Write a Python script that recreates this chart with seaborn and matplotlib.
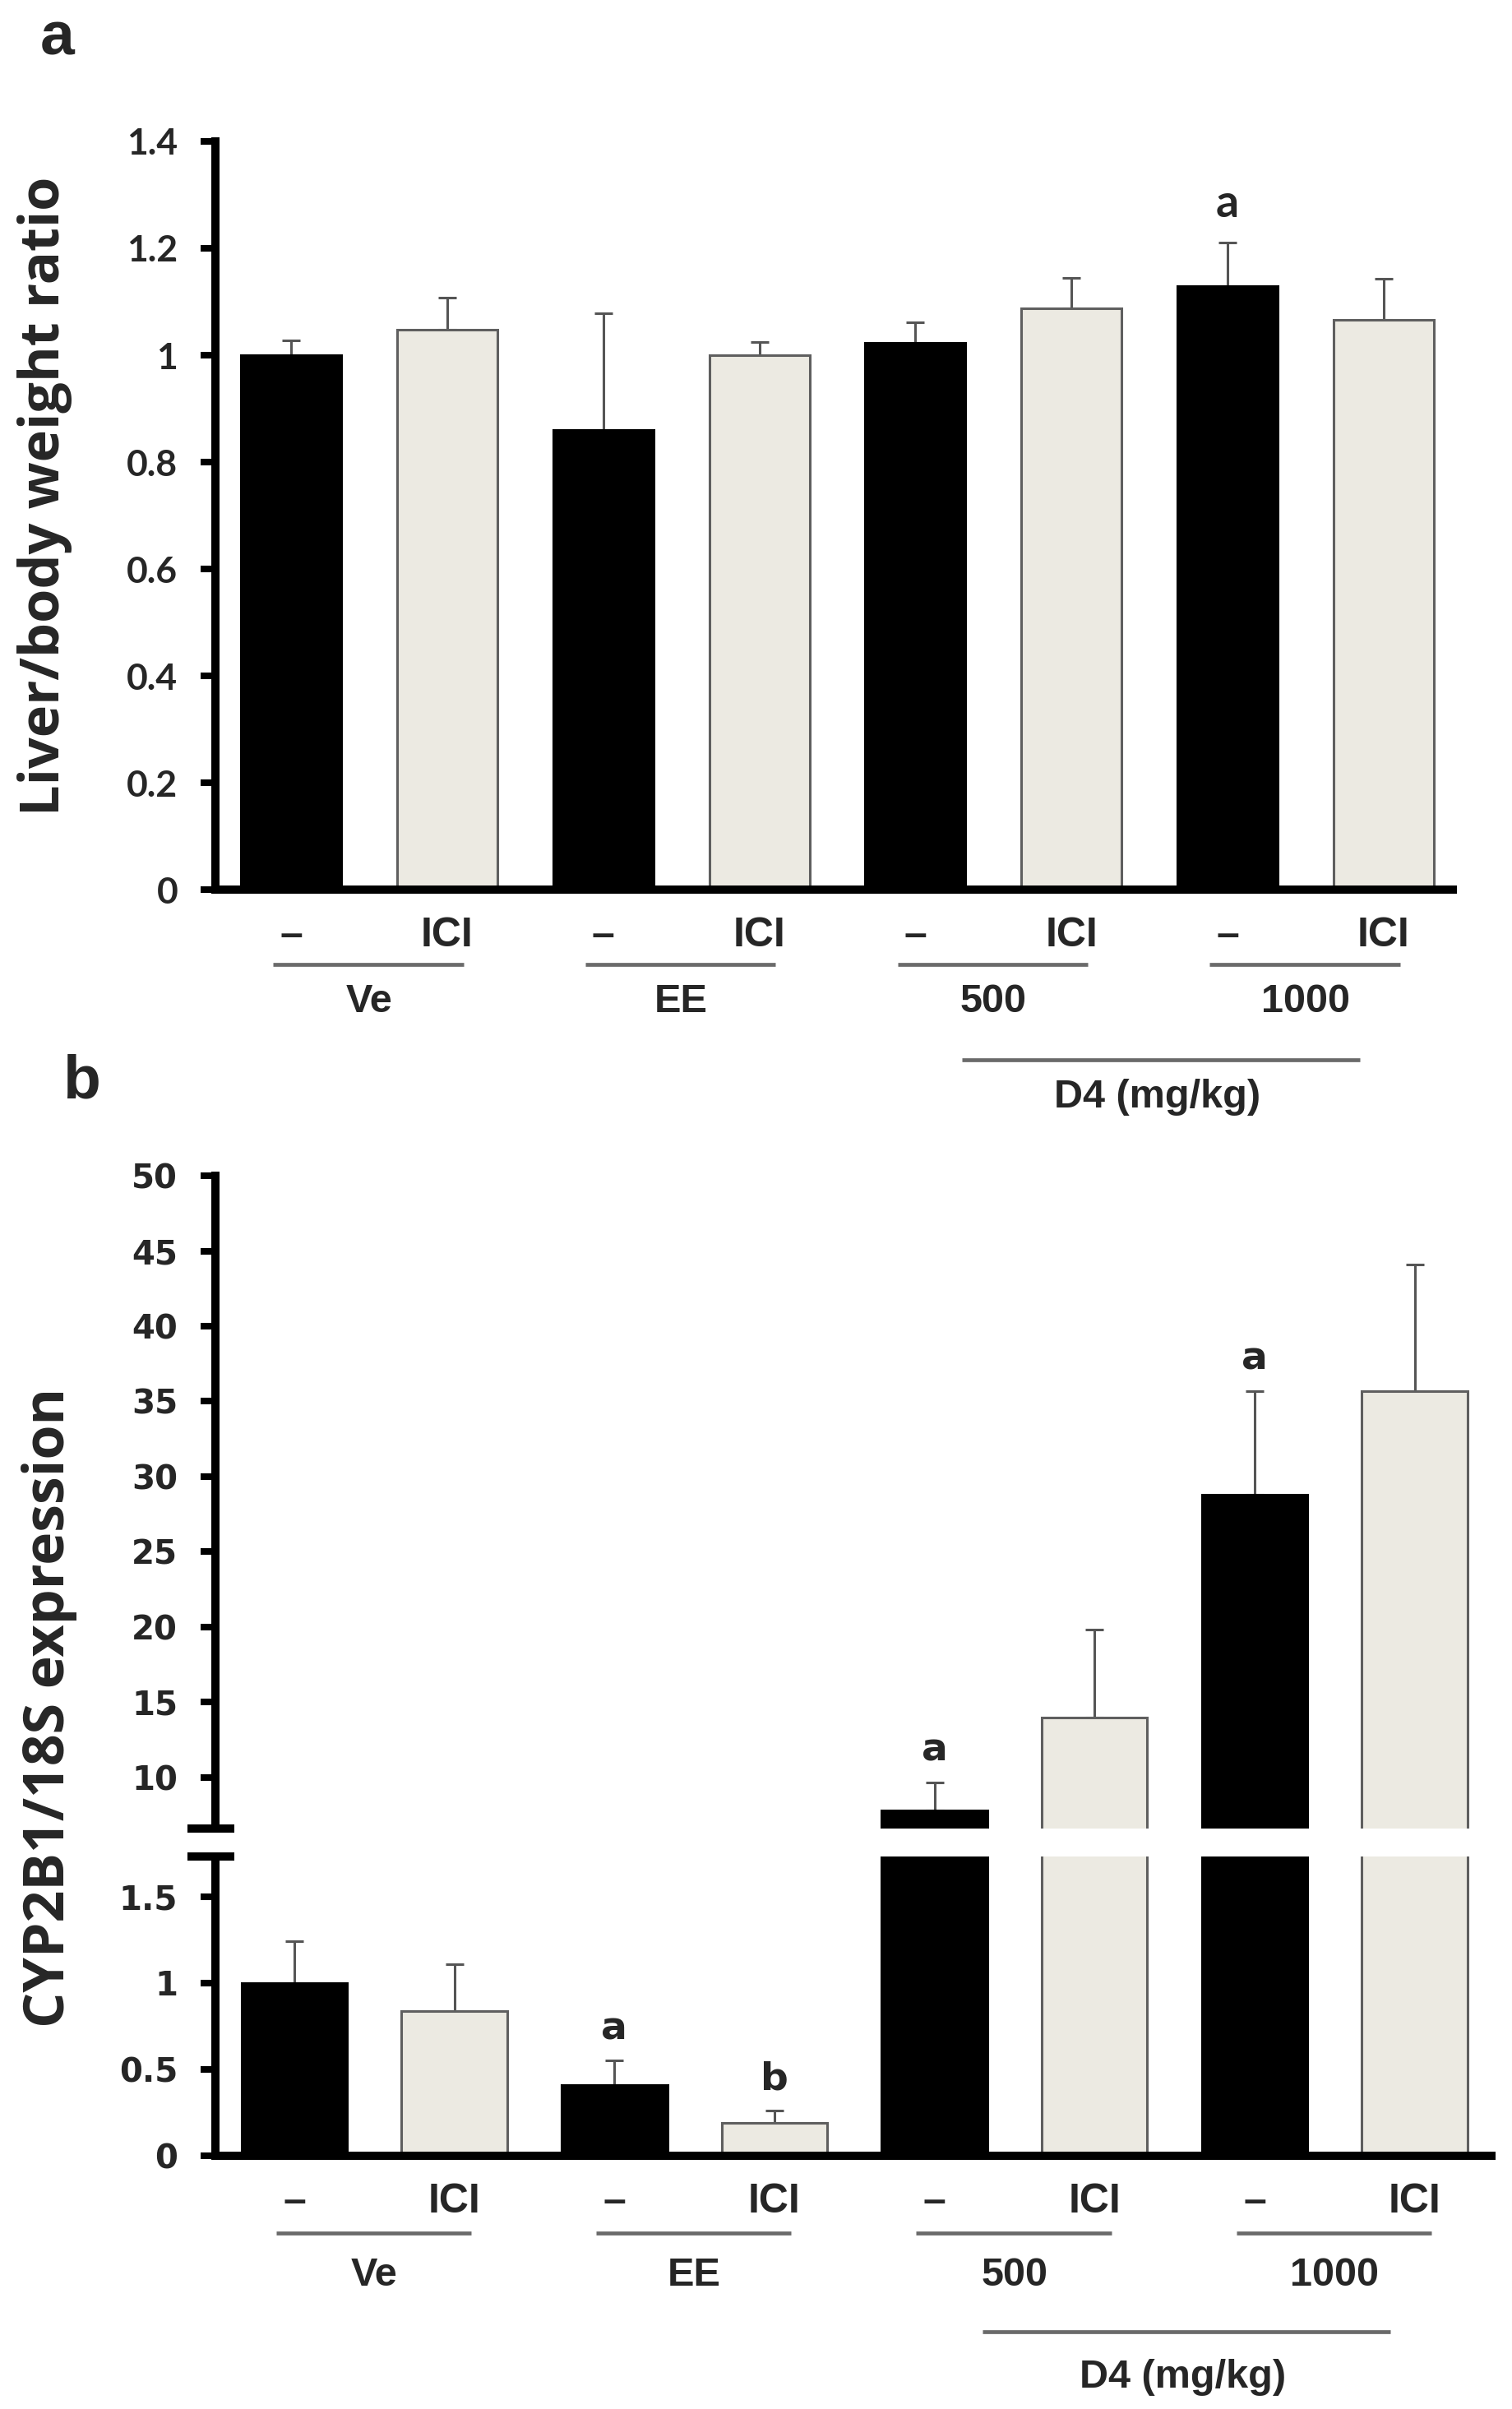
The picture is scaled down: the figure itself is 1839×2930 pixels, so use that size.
import numpy as np
import pandas as pd
import seaborn as sns
import matplotlib.pyplot as plt
from matplotlib.transforms import blended_transform_factory

sns.set_theme(style="white")
plt.rcParams["font.family"] = ["DejaVu Sans"]

GROUPS = ["Ve", "EE", "500", "1000"]
TREATMENTS = ["–", "ICI"]

# bar order: Ve -, Ve ICI, EE -, EE ICI, 500 -, 500 ICI, 1000 -, 1000 ICI
liver_mean = [1.00, 1.048, 0.86, 1.00, 1.023, 1.087, 1.13, 1.066]
liver_err = [0.027, 0.06, 0.218, 0.024, 0.038, 0.057, 0.08, 0.077]
liver_marks = ["", "", "", "", "", "", "a", ""]
liver_ticks = [0, 0.2, 0.4, 0.6, 0.8, 1.0, 1.2, 1.4]

cyp_mean = [1.00, 0.84, 0.41, 0.19, 7.8, 14.0, 28.8, 35.7]
cyp_err = [0.24, 0.27, 0.14, 0.07, 1.85, 5.8, 6.9, 8.4]
cyp_marks = ["", "", "a", "b", "a", "", "a", ""]
cyp_ticks_low = [0, 0.5, 1.0, 1.5]
cyp_ticks_high = [10, 15, 20, 25, 30, 35, 40, 45, 50]

PALETTE = {"–": "black", "ICI": "#EEEBE0"}
EDGES = {"–": "black", "ICI": "#5f5f5f"}
GREY = "#6a6a6a"
SPINE_W = 3.6

LABEL_FONT = dict(family="Liberation Sans", weight="bold")


def bar_frame(means):
    return pd.DataFrame({
        "bar": [f"{g} {t}" for g in GROUPS for t in TREATMENTS],
        "treat": TREATMENTS * len(GROUPS),
        "value": means,
    })


def draw_bars(ax, means, errs, width):
    df = bar_frame(means)
    sns.barplot(data=df, x="bar", y="value", hue="treat", palette=PALETTE,
                dodge=False, width=width, legend=False, ax=ax,
                linewidth=1.1, zorder=2)
    for cont, t in zip(ax.containers, TREATMENTS):
        for p in cont:
            p.set_edgecolor(EDGES[t])
    x = np.arange(len(means))
    ax.errorbar(x, means, yerr=[np.zeros(len(errs)), errs], fmt="none",
                ecolor="#555555", elinewidth=1.1, capsize=4, capthick=1.1,
                zorder=1)
    ax.set_xlabel("")
    ax.set_ylabel("")


def style_yaxis(ax, ticks, font, size):
    ax.set_yticks(ticks)
    ax.set_yticklabels([f"{v:g}" for v in ticks], fontfamily=font,
                       fontweight="bold", fontsize=size)
    ax.tick_params(axis="y", left=True, direction="out", length=6.5,
                   width=2.9, pad=10, color="black")
    ax.spines["left"].set_linewidth(SPINE_W)
    ax.spines["left"].set_color("black")
    ax.spines["top"].set_visible(False)
    ax.spines["right"].set_visible(False)


def style_xaxis(ax):
    ax.set_xticks(range(len(GROUPS) * 2))
    ax.set_xticklabels(TREATMENTS * len(GROUPS), fontsize=18, **LABEL_FONT)
    ax.tick_params(axis="x", bottom=False, length=0, pad=12)
    ax.spines["bottom"].set_linewidth(SPINE_W)
    ax.spines["bottom"].set_color("black")


def mark_bars(ax, means, errs, marks, font, size, offset):
    lo, hi = ax.get_ylim()
    for i, (m, e, s) in enumerate(zip(means, errs, marks)):
        if s and lo < m + e < hi:
            ax.annotate(s, (i, m + e), xytext=(0, offset),
                        textcoords="offset points", ha="center", va="center",
                        fontfamily=font, fontweight="bold", fontsize=size)


def group_labels(fig, ax, line_y, text_y, d4_line_y, d4_text_y):
    trans = blended_transform_factory(ax.transData, fig.transFigure)
    for i, g in enumerate(GROUPS):
        ax.plot([2 * i - 0.115, 2 * i + 1.105], [line_y, line_y],
                transform=trans, clip_on=False, color=GREY, lw=1.7,
                solid_capstyle="butt")
        ax.text(2 * i + 0.5, text_y, g, transform=trans, ha="center",
                va="baseline", fontsize=17.5, **LABEL_FONT)
    ax.plot([4.3, 6.85], [d4_line_y, d4_line_y], transform=trans,
            clip_on=False, color=GREY, lw=1.7, solid_capstyle="butt")
    ax.text(5.55, d4_text_y, "D4 (mg/kg)", transform=trans, ha="center",
            va="baseline", fontsize=17.5, **LABEL_FONT)


def break_mark(ax, y):
    ax.plot([-0.022, 0.015], [y, y], transform=ax.transAxes, clip_on=False,
            color="black", lw=SPINE_W, solid_capstyle="butt")


def liver_panel(fig):
    ax = fig.add_axes([0.1425, 0.6307, 0.8185, 0.3106])
    draw_bars(ax, liver_mean, liver_err, 0.643)
    ax.set_ylim(0, 1.4)
    ax.set_xlim(-0.485, 7.445)
    style_yaxis(ax, liver_ticks, "Lato", 16)
    style_xaxis(ax)
    mark_bars(ax, liver_mean, liver_err, liver_marks, "Lato", 20, 17)
    ax.set_ylabel("Liver/body weight ratio", fontfamily="Open Sans",
                  fontweight="bold", fontsize=24)
    ax.yaxis.set_label_coords(-0.138, 0.526)
    ax.yaxis.label.set_va("center")
    group_labels(fig, ax, 0.5997, 0.5799, 0.5601, 0.5403)
    fig.text(0.038, 0.984, "a", ha="center", va="center", fontsize=27,
             **LABEL_FONT)


def cyp_panel(fig):
    top = fig.add_axes([0.1425, 0.2410, 0.8439, 0.2709])
    low = fig.add_axes([0.1425, 0.1051, 0.8439, 0.1243])
    top_lim, low_lim = (6.6, 50), (0, 1.733)
    for ax, lim in ((top, top_lim), (low, low_lim)):
        draw_bars(ax, cyp_mean, cyp_err, 0.66)
        ax.set_xlim(-0.493, 7.48)
        ax.set_ylim(*lim)
        mark_bars(ax, cyp_mean, cyp_err, cyp_marks, "DejaVu Sans", 17, 14)
    style_yaxis(top, cyp_ticks_high, "DejaVu Sans", 14.5)
    style_yaxis(low, cyp_ticks_low, "DejaVu Sans", 14.5)
    top.spines["bottom"].set_visible(False)
    top.tick_params(axis="x", bottom=False, labelbottom=False)
    style_xaxis(low)
    break_mark(top, 0)
    break_mark(low, 1)
    top.set_ylabel("CYP2B1/18S expression", fontfamily="Open Sans",
                   fontweight="bold", fontsize=24.5)
    top.yaxis.set_label_coords(-0.13, 0.185)
    top.yaxis.label.set_va("center")
    group_labels(fig, low, 0.0730, 0.0512, 0.0321, 0.0089)
    fig.text(0.054, 0.551, "b", ha="center", va="center", fontsize=27,
             **LABEL_FONT)


def main() -> None:
    fig = plt.figure(figsize=(9.195, 14.65), dpi=200)
    liver_panel(fig)
    cyp_panel(fig)
    fig.savefig("out.png", dpi=200, facecolor="white")


if __name__ == "__main__":
    main()
